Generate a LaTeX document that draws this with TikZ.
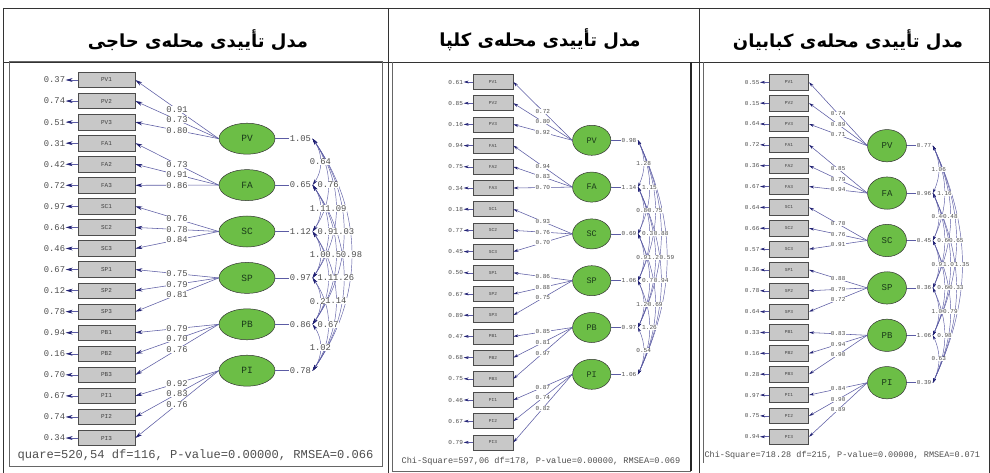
\documentclass[tikz,border=0pt]{standalone}
\usepackage{fontspec}
\usepackage{tikz}
\usetikzlibrary{arrows.meta,positioning,shapes.geometric}
\TeXXeTstate=1
\newfontfamily\farsifont[Script=Arabic]{DejaVu Sans}
\newfontfamily\lisfont{Liberation Mono}
\definecolor{lisblue}{RGB}{92,92,164}
\definecolor{lisnavy}{RGB}{34,34,116}
\definecolor{lisgreen}{RGB}{108,190,70}
\definecolor{lisgray}{RGB}{200,200,200}
\definecolor{listext}{RGB}{78,78,78}
\definecolor{lisdark}{RGB}{26,58,26}
\newcommand{\tiplen}{7pt}
\newcommand{\tipwid}{3.6pt}
\tikzstyle{load} = [draw=lisblue, line width=0.55pt, -{Stealth[length=\tiplen,width=\tipwid,color=lisnavy]}]
\tikzstyle{cov} = [draw=lisblue, line width=0.45pt, {Stealth[length=\tiplen,width=\tipwid,color=lisnavy]}-{Stealth[length=\tiplen,width=\tipwid,color=lisnavy]}]
\tikzstyle{frame} = [draw=black!80, line width=0.8pt]

\begin{document}
\begin{tikzpicture}[x=1pt, y=-1pt,
    ind/.style={rectangle, draw=black!70, fill=lisgray, line width=0.7pt, inner sep=0pt, text=black!75},
    latent/.style={ellipse, draw=black!80, fill=lisgreen, line width=0.5pt, inner sep=0pt, text=lisdark},
    num/.style={inner sep=0.4pt, text=listext},
    lab/.style={num, fill=white},
    title/.style={font=\farsifont\bfseries\fontsize{18}{21}\selectfont}
]
\useasboundingbox (0,0) rectangle (990,473);
\fill[white] (0,0) rectangle (990,473);

% Table
\draw[frame] (3,8) -- (989,8);
\draw[frame] (3,62) -- (989,62);
\draw[frame] (3,8) -- (3,473);
\draw[frame] (388,8) -- (388,473);
\draw[frame] (699,8) -- (699,473);
\draw[frame] (989,8) -- (989,473);

% Titles
\node[title] (haji-title) at (198,40) {\beginR مدل تأییدی محله‌ی حاجی\endR};
\node[title] (kolpa-title) at (540,40) {\beginR مدل تأییدی محله‌ی کلپا\endR};
\node[title] (kabab-title) at (848,40) {\beginR مدل تأییدی محله‌ی کبابیان\endR};

% Picture frames
\draw[black!60, line width=1pt] (9,62) rectangle (382,466);
\draw[black!60, line width=0.6pt] (392,62) -- (392,471) -- (691,471);
\draw[black!85, line width=1.6pt] (691,62) -- (691,471);
\draw[black!60, line width=0.6pt] (703,62) -- (703,463);

% ---------- Haji ----------
\begin{scope}[font=\lisfont\fontsize{8.8}{9}\selectfont,
    ind/.append style={minimum width=57pt, minimum height=15.5pt, font=\lisfont\fontsize{6}{6}\selectfont},
    latent/.append style={minimum width=56pt, minimum height=31pt, font=\lisfont\fontsize{9.5}{10}\selectfont}]
\renewcommand{\tiplen}{7pt}\renewcommand{\tipwid}{3.8pt}
% Indicators (left)
\foreach \lab/\e [count=\i from 0] in {PV1/0.37, PV2/0.74, PV3/0.51, FA1/0.31, FA2/0.42, FA3/0.72, SC1/0.97, SC2/0.64, SC3/0.46, SP1/0.67, SP2/0.12, SP3/0.78, PB1/0.94, PB2/0.16, PB3/0.70, PI1/0.67, PI2/0.74, PI3/0.34}{
  \node[ind] (haji-ind-\i) at (106.5,80+21.06*\i) {\lab};
  \node[num, left=12pt of haji-ind-\i] (haji-err-\i) {\e};
  \draw[load] (haji-ind-\i) -- (haji-err-\i);
}
% Latent variables
\foreach \lat/\v [count=\j from 0] in {PV/1.05, FA/0.65, SC/1.12, SP/0.97, PB/0.86, PI/0.78}{
  \node[latent] (haji-lat-\j) at (247,138.7+46.4*\j) {\lat};
  \node[num, right=14pt of haji-lat-\j] (haji-var-\j) {\v};
  \draw[lisblue, line width=0.55pt] (haji-lat-\j) -- (haji-var-\j);
}
% Loadings
\foreach \ld [count=\i from 0] in {0.91,0.73,0.80, 0.73,0.91,0.86, 0.76,0.78,0.84, 0.75,0.79,0.81, 0.79,0.70,0.76, 0.92,0.83,0.76}{
  \pgfmathtruncatemacro{\j}{\i/3}
  \draw[load] (haji-lat-\j.west) -- node[lab]{\ld} (haji-ind-\i.east);
}
% Covariances
\def\hajicov{0/1/0.64, 1/2/1.11, 2/3/1.00, 3/4/0.21, 4/5/1.02, 0/2/0.76, 1/3/0.91, 2/4/1.11, 3/5/0.67, 0/3/1.09, 1/4/0.55, 2/5/1.14, 0/4/1.03, 1/5/1.26, 0/5/0.98}
\renewcommand{\tiplen}{6pt}\renewcommand{\tipwid}{3.2pt}
\foreach \a/\b/\c in \hajicov
  \draw[cov] ([xshift=1pt]haji-var-\a.east) to[bend left=35] ([xshift=1pt]haji-var-\b.east);
\foreach \a/\b/\c in \hajicov
  \path ([xshift=1pt]haji-var-\a.east) to[bend left=35] node[lab]{\c} ([xshift=1pt]haji-var-\b.east);
\node[num, anchor=west, font=\lisfont\fontsize{12.1}{13}\selectfont] (haji-stats) at (17,455) {quare=520,54 df=116, P-value=0.00000, RMSEA=0.066};
\end{scope}

% ---------- Kolpa ----------
\begin{scope}[font=\lisfont\fontsize{6.1}{7}\selectfont,
    ind/.append style={minimum width=40pt, minimum height=15pt, font=\lisfont\fontsize{4.5}{5}\selectfont},
    latent/.append style={minimum width=38.3pt, minimum height=30pt, font=\lisfont\fontsize{8.5}{9}\selectfont}]
\renewcommand{\tiplen}{5pt}\renewcommand{\tipwid}{2.8pt}
% Indicators (left)
\foreach \lab/\e [count=\i from 0] in {PV1/0.61, PV2/0.85, PV3/0.16, FA1/0.94, FA2/0.75, FA3/0.34, SC1/0.18, SC2/0.77, SC3/0.45, SP1/0.50, SP2/0.67, SP3/0.89, PB1/0.47, PB2/0.68, PB3/0.75, PI1/0.46, PI2/0.67, PI3/0.79}{
  \node[ind] (kolpa-ind-\i) at (493,82+21.2*\i) {\lab};
  \node[num, left=9pt of kolpa-ind-\i] (kolpa-err-\i) {\e};
  \draw[load] (kolpa-ind-\i) -- (kolpa-err-\i);
}
% Latent variables
\foreach \lat/\v [count=\j from 0] in {PV/0.98, FA/1.14, SC/0.69, SP/1.06, PB/0.97, PI/1.06}{
  \node[latent] (kolpa-lat-\j) at (591.7,140.3+46.8*\j) {\lat};
  \node[num, right=10pt of kolpa-lat-\j] (kolpa-var-\j) {\v};
  \draw[lisblue, line width=0.55pt] (kolpa-lat-\j) -- (kolpa-var-\j);
}
% Loadings
\foreach \ld [count=\i from 0] in {0.72,0.80,0.92, 0.94,0.83,0.70, 0.93,0.76,0.70, 0.86,0.88,0.75, 0.85,0.81,0.97, 0.87,0.74,0.82}{
  \pgfmathtruncatemacro{\j}{\i/3}
  \draw[load] (kolpa-lat-\j.west) -- node[lab]{\ld} (kolpa-ind-\i.east);
}
% Covariances
\def\kolpacov{0/1/1.28, 1/2/0.80, 2/3/0.91, 3/4/1.20, 4/5/0.54, 0/2/1.15, 1/3/0.30, 2/4/0.70, 3/5/1.26, 0/3/0.75, 1/4/1.20, 2/5/0.69, 0/4/0.88, 1/5/0.94, 0/5/0.59}
\renewcommand{\tiplen}{4.5pt}\renewcommand{\tipwid}{2.6pt}
\foreach \a/\b/\c in \kolpacov
  \draw[cov] ([xshift=1pt]kolpa-var-\a.east) to[bend left=25] ([xshift=1pt]kolpa-var-\b.east);
\foreach \a/\b/\c in \kolpacov
  \path ([xshift=1pt]kolpa-var-\a.east) to[bend left=25] node[lab]{\c} ([xshift=1pt]kolpa-var-\b.east);
\node[num, anchor=west, font=\lisfont\fontsize{8.6}{9}\selectfont] (kolpa-stats) at (401,461) {Chi-Square=597,06 df=178, P-value=0.00000, RMSEA=0.069};
\end{scope}

% ---------- Kababian ----------
\begin{scope}[font=\lisfont\fontsize{6}{7}\selectfont,
    ind/.append style={minimum width=39.4pt, minimum height=15.5pt, font=\lisfont\fontsize{4.5}{5}\selectfont},
    latent/.append style={minimum width=39pt, minimum height=32.3pt, font=\lisfont\fontsize{9}{9}\selectfont}]
\renewcommand{\tiplen}{5pt}\renewcommand{\tipwid}{2.8pt}
% Indicators (left)
\foreach \lab/\e [count=\i from 0] in {PV1/0.55, PV2/0.15, PV3/0.64, FA1/0.72, FA2/0.36, FA3/0.67, SC1/0.64, SC2/0.66, SC3/0.57, SP1/0.36, SP2/0.78, SP3/0.64, PB1/0.33, PB2/0.16, PB3/0.28, PI1/0.97, PI2/0.75, PI3/0.94}{
  \node[ind] (kabab-ind-\i) at (789,82.3+20.85*\i) {\lab};
  \node[num, left=9pt of kabab-ind-\i] (kabab-err-\i) {\e};
  \draw[load] (kabab-ind-\i) -- (kabab-err-\i);
}
% Latent variables
\foreach \lat/\v [count=\j from 0] in {PV/0.77, FA/0.96, SC/0.45, SP/0.36, PB/1.06, PI/0.39}{
  \node[latent] (kabab-lat-\j) at (887,145.7+47.4*\j) {\lat};
  \node[num, right=9.5pt of kabab-lat-\j] (kabab-var-\j) {\v};
  \draw[lisblue, line width=0.55pt] (kabab-lat-\j) -- (kabab-var-\j);
}
% Loadings
\foreach \ld [count=\i from 0] in {0.74,0.89,0.71, 0.85,0.79,0.94, 0.70,0.76,0.91, 0.88,0.79,0.72, 0.83,0.94,0.90, 0.84,0.90,0.89}{
  \pgfmathtruncatemacro{\j}{\i/3}
  \draw[load] (kabab-lat-\j.west) -- node[lab]{\ld} (kabab-ind-\i.east);
}
% Covariances
\def\kababcov{0/1/1.06, 1/2/0.46, 2/3/0.91, 3/4/1.00, 4/5/0.63, 0/2/1.16, 1/3/0.60, 2/4/0.60, 3/5/0.98, 0/3/0.48, 1/4/1.07, 2/5/0.79, 0/4/0.65, 1/5/0.33, 0/5/1.35}
\renewcommand{\tiplen}{4.5pt}\renewcommand{\tipwid}{2.6pt}
\foreach \a/\b/\c in \kababcov
  \draw[cov] ([xshift=1pt]kabab-var-\a.east) to[bend left=25] ([xshift=1pt]kabab-var-\b.east);
\foreach \a/\b/\c in \kababcov
  \path ([xshift=1pt]kabab-var-\a.east) to[bend left=25] node[lab]{\c} ([xshift=1pt]kabab-var-\b.east);
\node[num, anchor=west, font=\lisfont\fontsize{8.5}{9}\selectfont] (kabab-stats) at (704,455) {Chi-Square=718.28 df=215, P-value=0.00000, RMSEA=0.071};
\end{scope}
\end{tikzpicture}
\end{document}
